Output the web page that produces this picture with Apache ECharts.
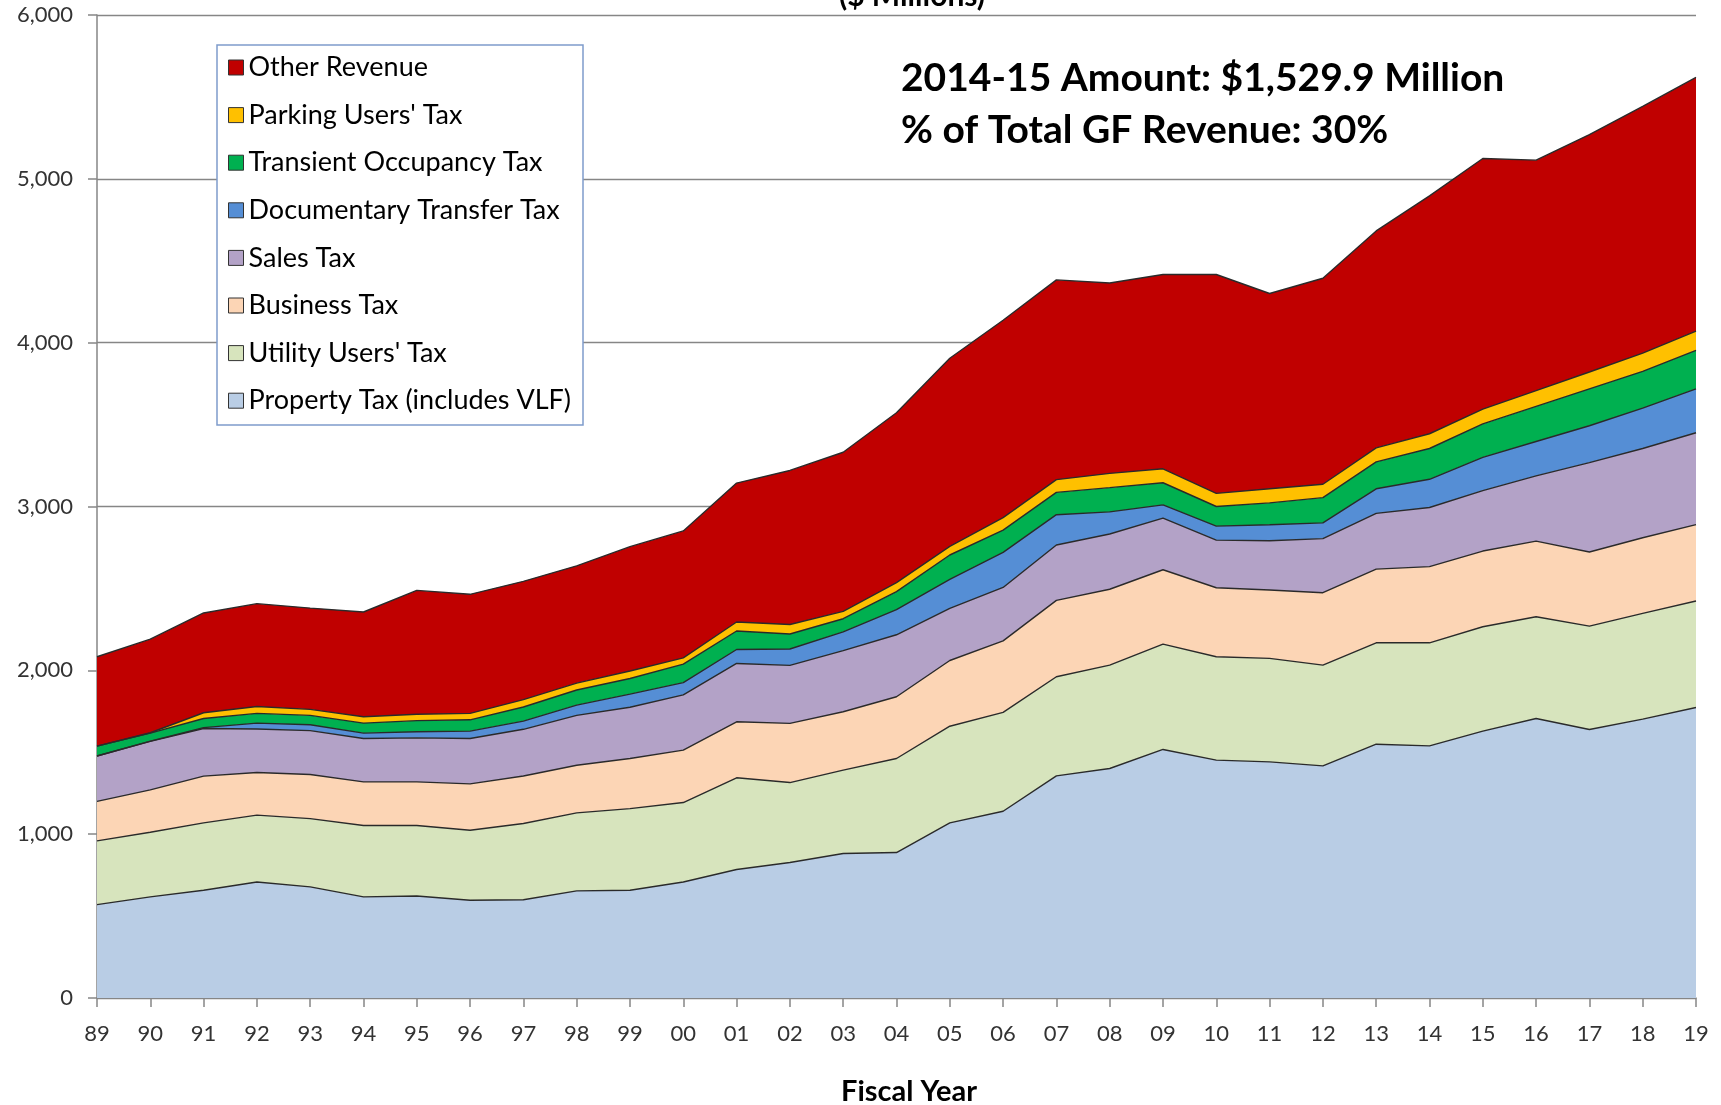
<!DOCTYPE html>
<html>
<head>
<meta charset="utf-8">
<script src="https://cdn.jsdelivr.net/npm/echarts@6/dist/echarts.min.js"></script>
<style>
html,body{margin:0;padding:0;background:#fff;}
#chart{width:1721px;height:1105px;}
</style>
</head>
<body>
<div id="chart"></div>
<script>
const years = ['89','90','91','92','93','94','95','96','97','98','99','00','01','02','03','04','05','06','07','08','09','10','11','12','13','14','15','16','17','18','19'];
const propertyTax = [570,617,658,708,678,617,623,597,600,654,658,708,784,827,882,888,1069,1140,1356,1401,1517,1452,1441,1417,1549,1539,1629,1706,1639,1702,1773];
const utilityTax = [389,395,411,408,417,436,430,427,465,476,498,485,560,488,509,574,590,603,605,631,643,631,632,615,619,629,637,621,631,646,650];
const businessTax = [241,258,285,260,269,266,266,283,290,291,306,320,342,361,356,377,401,437,466,463,454,421,417,442,450,465,462,462,452,461,466];
const salesTax = [277,296,291,266,268,265,269,277,285,304,313,337,356,354,373,378,318,326,338,337,315,291,301,330,340,361,369,398,546,545,561];
const docTransferTax = [0,2,5,36,36,33,37,45,50,63,80,75,85,100,115,153,177,214,185,135,81,85,98,96,150,172,203,210,225,246,268];
const transientOccTax = [60,49,56,59,57,61,68,69,86,92,95,113,113,92,80,110,149,136,136,148,135,120,133,154,164,188,204,214,225,225,235];
const parkingTax = [0,2,35,42,37,39,39,39,45,42,46,38,55,58,45,55,53,76,78,87,85,80,86,82,86,90,90,96,103,111,118];
const otherRevenue = [546,571,609,628,618,639,756,727,722,716,759,775,848,940,971,1037,1148,1205,1219,1162,1186,1336,1192,1257,1324,1452,1530,1407,1449,1506,1548];
const yTicks = [0,1000,2000,3000,4000,5000,6000];

const seriesDefs = [
  ['Property Tax (includes VLF)', propertyTax, '#b9cde5'],
  ["Utility Users' Tax", utilityTax, '#d7e4bd'],
  ['Business Tax', businessTax, '#fcd5b5'],
  ['Sales Tax', salesTax, '#b3a2c7'],
  ['Documentary Transfer Tax', docTransferTax, '#558ed5'],
  ['Transient Occupancy Tax', transientOccTax, '#00b050'],
  ["Parking Users' Tax", parkingTax, '#ffc000'],
  ['Other Revenue', otherRevenue, '#c00000']
];
const FONT = 'Lato';
const chart = echarts.init(document.getElementById('chart'), null, {renderer:'canvas'});
const option = {
  animation:false,
  backgroundColor:'#fff',
  grid:{left:97, right:25, top:15, bottom:107},
  xAxis:{
    type:'category', data:years, boundaryGap:false,
    axisLine:{lineStyle:{color:'#868686', width:1.5}},
    axisTick:{show:true, length:9, alignWithLabel:true, interval:0, lineStyle:{color:'#868686', width:1.5}},
    axisLabel:{interval:0, margin:25, fontFamily:FONT, fontSize:22, color:'#333'},
    splitLine:{show:false}
  },
  yAxis:{
    type:'value', min:yTicks[0], max:yTicks[yTicks.length-1], interval:1000,
    axisLine:{show:true, lineStyle:{color:'#868686', width:1.5}},
    axisTick:{show:true, length:9, lineStyle:{color:'#868686', width:1.5}},
    axisLabel:{margin:24, fontFamily:FONT, fontSize:22, color:'#333', formatter:v=>v.toLocaleString('en-US')},
    splitLine:{show:true, lineStyle:{color:'#868686', width:1.3}}
  },
  legend:{
    orient:'vertical', left:228, top:54, z:20, padding:0,
    icon:'rect', itemWidth:15, itemHeight:15, itemGap:20.6,
    itemStyle:{borderColor:'#333', borderWidth:1},
    textStyle:{fontFamily:FONT, fontSize:27, lineHeight:27, color:'#000'},
    data:seriesDefs.map(d=>d[0]).reverse()
  },
  series:seriesDefs.map(d=>({
    name:d[0], type:'line', stack:'total', data:d[1], color:d[2],
    symbol:'none', smooth:false,
    lineStyle:{color:'#2a2a2a', width:1.4},
    areaStyle:{color:d[2], opacity:1},
    itemStyle:{color:d[2]}
  })),
  graphic:[
    {type:'rect', z:10, shape:{x:217, y:45, width:366, height:380}, style:{fill:'#fff', stroke:'#7f9ccb', lineWidth:1.5}},
    {type:'text', z:11, x:912, y:11, style:{text:'($ Millions)', font:'bold 30px '+FONT, fill:'#000', textAlign:'center', textVerticalAlign:'bottom', verticalAlign:'bottom', align:'center'}},
    {type:'text', z:11, x:901, y:78, style:{text:'2014-15 Amount: $1,529.9 Million', font:'bold 39px '+FONT, fill:'#000', verticalAlign:'middle', textVerticalAlign:'middle'}},
    {type:'text', z:11, x:901, y:130, style:{text:'% of Total GF Revenue: 30%', font:'bold 39px '+FONT, fill:'#000', verticalAlign:'middle', textVerticalAlign:'middle'}},
    {type:'text', z:11, x:909, y:1092, style:{text:'Fiscal Year', font:'bold 29px '+FONT, fill:'#000', align:'center', textAlign:'center', verticalAlign:'middle', textVerticalAlign:'middle'}}
  ]
};
chart.setOption(option);
</script>
</body>
</html>
